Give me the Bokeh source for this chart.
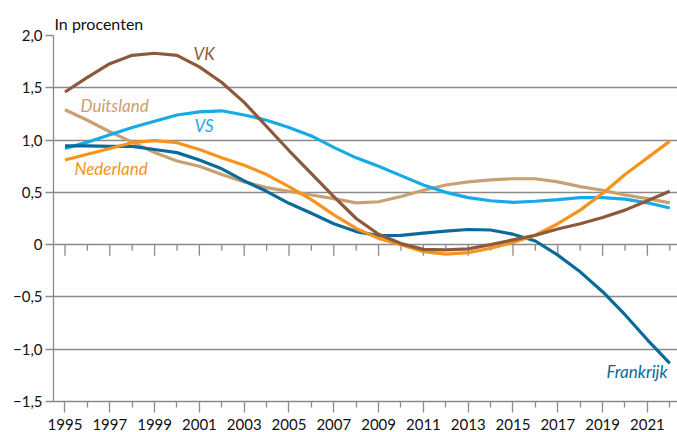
from bokeh.plotting import figure
from bokeh.models import FixedTicker, Range1d, ColumnDataSource
from bokeh.core.properties import value
from bokeh.embed import file_html
from bokeh.resources import INLINE

years = list(range(1995, 2023))
vk = [1.46, 1.60, 1.73, 1.81, 1.83, 1.81, 1.70, 1.55, 1.36, 1.13, 0.90, 0.68, 0.46, 0.25, 0.10, 0.01,
      -0.045, -0.05, -0.04, 0.0, 0.045, 0.09, 0.15, 0.20, 0.26, 0.33, 0.42, 0.51]
duitsland = [1.29, 1.19, 1.08, 0.98, 0.88, 0.80, 0.75, 0.67, 0.60, 0.545, 0.51, 0.475, 0.44, 0.40, 0.41, 0.46,
             0.52, 0.57, 0.60, 0.62, 0.63, 0.63, 0.60, 0.555, 0.52, 0.475, 0.44, 0.40]
vs = [0.92, 0.98, 1.05, 1.12, 1.18, 1.24, 1.27, 1.28, 1.24, 1.19, 1.12, 1.04, 0.93, 0.83, 0.75, 0.66,
      0.57, 0.50, 0.45, 0.42, 0.405, 0.415, 0.43, 0.45, 0.45, 0.435, 0.40, 0.35]
nederland = [0.81, 0.865, 0.92, 0.975, 0.995, 0.975, 0.91, 0.83, 0.76, 0.67, 0.555, 0.43, 0.285, 0.155, 0.06, 0.0,
             -0.067, -0.09, -0.077, -0.035, 0.02, 0.09, 0.20, 0.33, 0.49, 0.67, 0.83, 0.99]
frankrijk = [0.945, 0.945, 0.94, 0.94, 0.91, 0.88, 0.81, 0.725, 0.61, 0.51, 0.395, 0.30, 0.20, 0.125, 0.086, 0.088,
             0.11, 0.13, 0.145, 0.14, 0.10, 0.035, -0.10, -0.26, -0.45, -0.67, -0.91, -1.135]

y_ticks = [-1.5, -1.0, -0.5, 0.0, 0.5, 1.0, 1.5, 2.0]
y_tick_labels = ["\u22121,5", "\u22121,0", "\u22120,5", "0", "0,5", "1,0", "1,5", "2,0"]
x_label_years = [y for y in years if y % 2 == 1]
x_minor_years = [y for y in years if y % 2 == 0]

FONT = "Lato"
GRID = "#8a8a8a"
C_VK = "#8c5a3a"
C_DE = "#c9a072"
C_VS = "#18aae6"
C_NL = "#f7941d"
C_FR = "#0b6a9c"

p = figure(width=677, height=432, output_backend="svg", toolbar_location=None,
           x_range=Range1d(1994.487, 2022.344), y_range=Range1d(-1.5, 2.0),
           min_border_left=53, min_border_right=0, min_border_top=35, min_border_bottom=31)
p.outline_line_color = None
p.background_fill_color = "white"

p.title.text = "In procenten"
p.title.text_font = FONT
p.title.text_font_size = "16px"
p.title.text_font_style = "normal"
p.title.text_color = "#111111"
p.title.offset = 1
p.title.standoff = 6

# grid
p.xgrid.visible = False
p.ygrid.ticker = FixedTicker(ticks=y_ticks)
p.ygrid.grid_line_color = GRID
p.ygrid.grid_line_width = 1.3

# y axis
p.yaxis.ticker = FixedTicker(ticks=y_ticks)
p.yaxis.major_label_overrides = {t: l for t, l in zip(y_ticks, y_tick_labels)}
p.yaxis.axis_line_color = GRID
p.yaxis.axis_line_width = 1.3
p.yaxis.major_tick_line_color = GRID
p.yaxis.major_tick_line_width = 1.3
p.yaxis.major_tick_out = 8
p.yaxis.major_tick_in = 0
p.yaxis.minor_tick_line_color = None
p.yaxis.major_label_standoff = 3
p.yaxis.major_label_text_font = FONT
p.yaxis.major_label_text_font_size = "15px"
p.yaxis.major_label_text_color = "#111111"

# x axis
p.xaxis.ticker = FixedTicker(ticks=x_label_years, minor_ticks=x_minor_years)
p.xaxis.axis_line_color = GRID
p.xaxis.axis_line_width = 1.3
p.xaxis.major_tick_line_color = GRID
p.xaxis.major_tick_line_width = 1.3
p.xaxis.minor_tick_line_color = GRID
p.xaxis.minor_tick_line_width = 1.3
p.xaxis.major_tick_out = 11
p.xaxis.major_tick_in = 0
p.xaxis.minor_tick_out = 6
p.xaxis.minor_tick_in = 0
p.xaxis.major_label_standoff = 6
p.xaxis.major_label_text_font = FONT
p.xaxis.major_label_text_font_size = "15px"
p.xaxis.major_label_text_color = "#111111"

# ticks hanging from the zero line
px_per_unit = 366 / 3.5
long_t = 11 / px_per_unit
short_t = 6 / px_per_unit
p.segment(x0=x_label_years, y0=[0] * len(x_label_years), x1=x_label_years,
          y1=[-long_t] * len(x_label_years), line_color=GRID, line_width=1.3)
p.segment(x0=x_minor_years, y0=[0] * len(x_minor_years), x1=x_minor_years,
          y1=[-short_t] * len(x_minor_years), line_color=GRID, line_width=1.3)

src = ColumnDataSource(dict(year=years, vk=vk, de=duitsland, vs=vs, nl=nederland, fr=frankrijk))
for col, color in [("de", C_DE), ("vs", C_VS), ("fr", C_FR), ("nl", C_NL), ("vk", C_VK)]:
    p.line("year", col, source=src, line_color=color, line_width=3.2, line_join="round")

# series labels
labels = [
    ("VK", 2000.74, 1.83, C_VK, "left"),
    ("Duitsland", 1995.69, 1.33, C_DE, "left"),
    ("VS", 2000.78, 1.14, C_VS, "left"),
    ("Nederland", 1995.42, 0.73, C_NL, "left"),
    ("Frankrijk", 2021.9, -1.21, C_FR, "right"),
]
for txt, lx, ly, color, align in labels:
    p.text(x=[lx], y=[ly], text=[txt], text_color=color, text_font=value(FONT),
           text_font_style="italic", text_font_size="17px", text_align=align,
           text_baseline="middle")

open("out.html", "w").write(file_html(p, INLINE))
